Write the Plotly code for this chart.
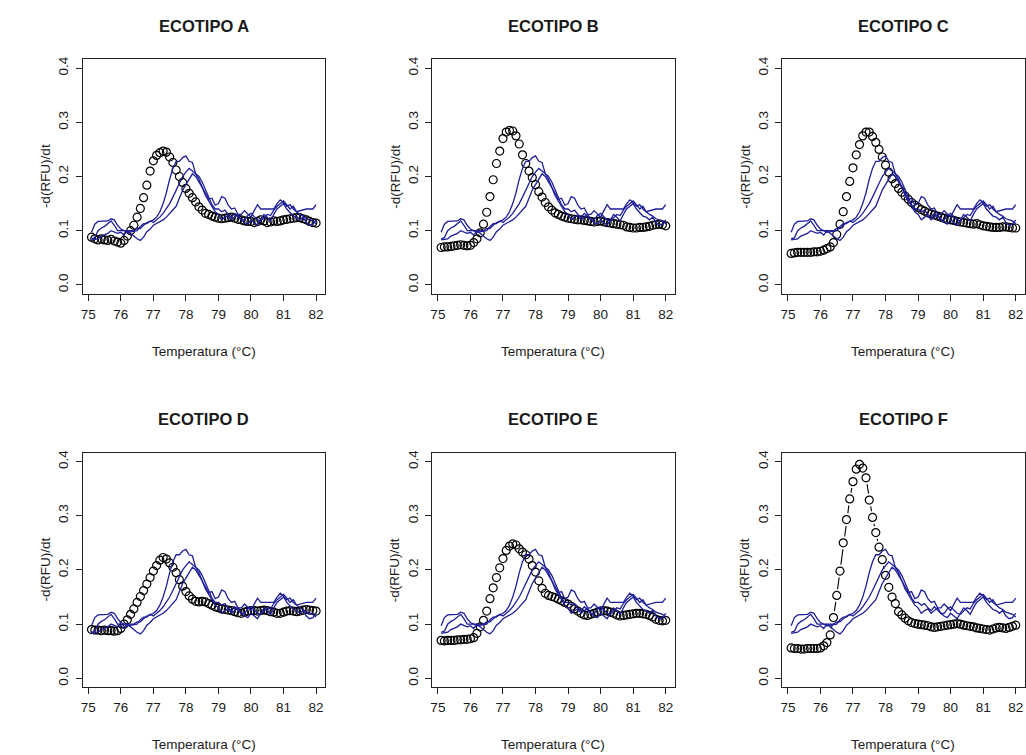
import plotly.graph_objects as go

# ---------------- data ----------------
TEMPERATURA = [75.1, 75.2, 75.3, 75.4, 75.5, 75.6, 75.7, 75.8, 75.9, 76.0,
               76.1, 76.2, 76.3, 76.4, 76.5, 76.6, 76.7, 76.8, 76.9, 77.0,
               77.1, 77.2, 77.3, 77.4, 77.5, 77.6, 77.7, 77.8, 77.9, 78.0,
               78.1, 78.2, 78.3, 78.4, 78.5, 78.6, 78.7, 78.8, 78.9, 79.0,
               79.1, 79.2, 79.3, 79.4, 79.5, 79.6, 79.7, 79.8, 79.9, 80.0,
               80.1, 80.2, 80.3, 80.4, 80.5, 80.6, 80.7, 80.8, 80.9, 81.0,
               81.1, 81.2, 81.3, 81.4, 81.5, 81.6, 81.7, 81.8, 81.9, 82.0]

# reference curves (blue), identical in every panel
REF_1 = [0.097, 0.112, 0.117, 0.117, 0.118, 0.118, 0.122, 0.120, 0.110, 0.103,
         0.100, 0.100, 0.100, 0.100, 0.104, 0.104, 0.110, 0.115, 0.117, 0.120,
         0.125, 0.135, 0.150, 0.170, 0.195, 0.215, 0.228, 0.228, 0.235, 0.238,
         0.228, 0.226, 0.205, 0.195, 0.180, 0.168, 0.158, 0.160, 0.147, 0.150,
         0.163, 0.160, 0.147, 0.140, 0.142, 0.130, 0.130, 0.137, 0.130, 0.125,
         0.137, 0.148, 0.140, 0.140, 0.140, 0.140, 0.140, 0.150, 0.157, 0.152,
         0.145, 0.148, 0.140, 0.135, 0.137, 0.138, 0.140, 0.140, 0.140, 0.148]
REF_2 = [0.085, 0.087, 0.100, 0.105, 0.108, 0.113, 0.118, 0.110, 0.100, 0.100,
         0.100, 0.097, 0.098, 0.100, 0.100, 0.108, 0.113, 0.113, 0.118, 0.115,
         0.120, 0.125, 0.132, 0.140, 0.150, 0.162, 0.175, 0.190, 0.200, 0.208,
         0.215, 0.210, 0.205, 0.200, 0.190, 0.175, 0.162, 0.148, 0.140, 0.140,
         0.135, 0.138, 0.130, 0.125, 0.132, 0.125, 0.120, 0.120, 0.128, 0.132,
         0.125, 0.120, 0.118, 0.125, 0.130, 0.128, 0.138, 0.145, 0.150, 0.155,
         0.148, 0.140, 0.145, 0.135, 0.130, 0.127, 0.122, 0.120, 0.118, 0.113]
REF_3 = [0.083, 0.084, 0.085, 0.090, 0.093, 0.095, 0.100, 0.098, 0.095, 0.097,
         0.092, 0.100, 0.095, 0.090, 0.085, 0.082, 0.088, 0.098, 0.103, 0.110,
         0.113, 0.117, 0.120, 0.125, 0.132, 0.137, 0.145, 0.160, 0.175, 0.185,
         0.195, 0.205, 0.200, 0.190, 0.180, 0.165, 0.155, 0.145, 0.135, 0.130,
         0.120, 0.125, 0.128, 0.120, 0.125, 0.130, 0.120, 0.115, 0.112, 0.120,
         0.115, 0.110, 0.120, 0.130, 0.125, 0.118, 0.130, 0.140, 0.145, 0.150,
         0.140, 0.133, 0.127, 0.125, 0.120, 0.125, 0.115, 0.110, 0.112, 0.120]

ECOTIPO_A = [0.088, 0.085, 0.083, 0.085, 0.083, 0.082, 0.084, 0.081, 0.079, 0.077,
             0.082, 0.090, 0.100, 0.110, 0.125, 0.141, 0.161, 0.184, 0.210, 0.229,
             0.239, 0.244, 0.247, 0.245, 0.236, 0.226, 0.212, 0.200, 0.189, 0.178,
             0.169, 0.161, 0.153, 0.144, 0.138, 0.132, 0.130, 0.127, 0.125, 0.123,
             0.122, 0.123, 0.124, 0.125, 0.123, 0.121, 0.120, 0.118, 0.117, 0.117,
             0.115, 0.117, 0.120, 0.118, 0.115, 0.116, 0.118, 0.117, 0.118, 0.120,
             0.121, 0.122, 0.123, 0.124, 0.124, 0.122, 0.120, 0.117, 0.115, 0.114]
ECOTIPO_B = [0.069, 0.070, 0.070, 0.071, 0.072, 0.073, 0.074, 0.073, 0.072, 0.073,
             0.078, 0.085, 0.096, 0.112, 0.134, 0.163, 0.194, 0.224, 0.247, 0.270,
             0.282, 0.285, 0.284, 0.275, 0.260, 0.240, 0.224, 0.210, 0.198, 0.185,
             0.172, 0.162, 0.152, 0.144, 0.138, 0.133, 0.130, 0.127, 0.125, 0.123,
             0.122, 0.121, 0.120, 0.120, 0.119, 0.118, 0.117, 0.116, 0.117, 0.118,
             0.116, 0.115, 0.114, 0.113, 0.112, 0.111, 0.110, 0.107, 0.106, 0.105,
             0.105, 0.106, 0.106, 0.107, 0.108, 0.110, 0.111, 0.112, 0.111, 0.109]
ECOTIPO_C = [0.058, 0.059, 0.060, 0.060, 0.060, 0.060, 0.060, 0.061, 0.061, 0.062,
             0.064, 0.067, 0.070, 0.078, 0.093, 0.112, 0.135, 0.163, 0.191, 0.216,
             0.240, 0.259, 0.275, 0.282, 0.282, 0.274, 0.263, 0.250, 0.236, 0.221,
             0.208, 0.196, 0.187, 0.178, 0.171, 0.164, 0.158, 0.152, 0.147, 0.143,
             0.139, 0.136, 0.133, 0.131, 0.129, 0.127, 0.125, 0.123, 0.121, 0.120,
             0.119, 0.117, 0.116, 0.115, 0.114, 0.113, 0.112, 0.113, 0.111, 0.109,
             0.108, 0.107, 0.106, 0.106, 0.106, 0.107, 0.107, 0.106, 0.105, 0.105]
ECOTIPO_D = [0.090, 0.089, 0.089, 0.088, 0.089, 0.088, 0.088, 0.087, 0.088, 0.092,
             0.100, 0.108, 0.118, 0.128, 0.140, 0.151, 0.162, 0.174, 0.186, 0.198,
             0.208, 0.218, 0.223, 0.220, 0.213, 0.205, 0.195, 0.182, 0.170, 0.160,
             0.152, 0.146, 0.142, 0.141, 0.142, 0.141, 0.138, 0.135, 0.132, 0.130,
             0.128, 0.127, 0.126, 0.125, 0.123, 0.121, 0.120, 0.122, 0.124, 0.125,
             0.125, 0.124, 0.125, 0.126, 0.125, 0.123, 0.122, 0.120, 0.120, 0.122,
             0.124, 0.125, 0.124, 0.123, 0.124, 0.126, 0.127, 0.126, 0.125, 0.124]
ECOTIPO_E = [0.070, 0.069, 0.070, 0.070, 0.070, 0.071, 0.071, 0.072, 0.072, 0.073,
             0.075, 0.083, 0.095, 0.107, 0.124, 0.147, 0.167, 0.186, 0.204, 0.221,
             0.236, 0.244, 0.248, 0.246, 0.239, 0.233, 0.228, 0.220, 0.208, 0.196,
             0.180, 0.166, 0.157, 0.153, 0.151, 0.149, 0.146, 0.143, 0.140, 0.137,
             0.133, 0.128, 0.124, 0.120, 0.117, 0.116, 0.118, 0.120, 0.122, 0.124,
             0.125, 0.124, 0.122, 0.120, 0.117, 0.115, 0.116, 0.117, 0.118, 0.119,
             0.120, 0.120, 0.119, 0.118, 0.116, 0.113, 0.109, 0.107, 0.106, 0.107]
ECOTIPO_F = [0.056, 0.055, 0.055, 0.054, 0.054, 0.055, 0.055, 0.055, 0.055, 0.056,
             0.060, 0.066, 0.080, 0.112, 0.153, 0.198, 0.250, 0.293, 0.331, 0.363,
             0.386, 0.395, 0.388, 0.370, 0.329, 0.297, 0.269, 0.242, 0.219, 0.190,
             0.168, 0.150, 0.138, 0.123, 0.117, 0.111, 0.106, 0.103, 0.101, 0.100,
             0.099, 0.098, 0.097, 0.095, 0.094, 0.095, 0.096, 0.097, 0.098, 0.099,
             0.100, 0.101, 0.100, 0.098, 0.097, 0.096, 0.095, 0.093, 0.092, 0.091,
             0.090, 0.089, 0.091, 0.093, 0.094, 0.093, 0.092, 0.094, 0.096, 0.098]

TITLES = ["ECOTIPO A", "ECOTIPO B", "ECOTIPO C", "ECOTIPO D", "ECOTIPO E", "ECOTIPO F"]
SAMPLES = [ECOTIPO_A, ECOTIPO_B, ECOTIPO_C, ECOTIPO_D, ECOTIPO_E, ECOTIPO_F]
REFERENCES = [REF_1, REF_2, REF_3]
CONNECTED = [False, False, False, False, False, True]
X_TICKS = [75, 76, 77, 78, 79, 80, 81, 82]
Y_TICKS = [0.0, 0.1, 0.2, 0.3, 0.4]
X_TITLE = "Temperatura (°C)"
Y_TITLE = "-d(RFU)/dt"

# ---------------- layout geometry (pixels) ----------------
W, H = 1026, 755
COL_LEFT = [80.7, 431.0, 781.7]
ROW_TOP = [56.7, 451.7]
PW, PH = 243.0, 235.0

FONT = "Arial, 'Liberation Sans', sans-serif"
TXT = "#1a1a1a"
BLUE = "#1e1e98"

fig = go.Figure()
layout = dict(
    width=W, height=H, margin=dict(l=0, r=0, t=0, b=0),
    paper_bgcolor="white", plot_bgcolor="white", showlegend=False,
    font=dict(family=FONT, color=TXT, size=13),
)
annotations = []

for i in range(6):
    r, c = divmod(i, 3)
    left = COL_LEFT[c]
    top = ROW_TOP[r]
    sfx = "" if i == 0 else str(i + 1)
    xa, ya = "x" + sfx, "y" + sfx

    xdom = [left / W, (left + PW) / W]
    ydom = [1 - (top + PH) / H, 1 - top / H]

    axis_common = dict(showgrid=False, zeroline=False, showline=True, mirror=True,
                       linecolor="#222", linewidth=1, ticks="outside", ticklen=6,
                       tickwidth=1, tickcolor="#222",
                       tickfont=dict(family=FONT, size=13.5, color=TXT))
    layout["xaxis" + sfx] = dict(axis_common, domain=xdom, anchor=ya,
                                 range=[74.824, 82.276], tickvals=X_TICKS,
                                 ticktext=[str(v) for v in X_TICKS],
                                 ticklabelstandoff=2)
    layout["yaxis" + sfx] = dict(axis_common, domain=ydom, anchor=xa,
                                 range=[-0.016, 0.416], tickvals=Y_TICKS,
                                 ticktext=["%.1f" % v for v in Y_TICKS],
                                 tickangle=-90, ticklabelstandoff=2)

    y = SAMPLES[i]
    if CONNECTED[i]:
        fig.add_trace(go.Scatter(x=TEMPERATURA, y=y, mode="lines",
                                 line=dict(color="black", width=1.1),
                                 xaxis=xa, yaxis=ya, hoverinfo="skip"))
        fig.add_trace(go.Scatter(x=TEMPERATURA, y=y, mode="markers",
                                 marker=dict(symbol="circle", size=13, color="white",
                                             line=dict(width=0)),
                                 xaxis=xa, yaxis=ya, hoverinfo="skip"))
    fig.add_trace(go.Scatter(x=TEMPERATURA, y=y, mode="markers",
                             marker=dict(symbol="circle-open", size=8, color="black",
                                         line=dict(width=1.2, color="black")),
                             xaxis=xa, yaxis=ya))
    for ref in REFERENCES:
        fig.add_trace(go.Scatter(x=TEMPERATURA, y=ref, mode="lines",
                                 line=dict(color=BLUE, width=1.3),
                                 xaxis=xa, yaxis=ya))

    cx = (left + PW / 2) / W
    # panel title
    annotations.append(dict(text="<b>%s</b>" % TITLES[i], x=cx, y=1 - (top - 33.7) / H,
                            xref="paper", yref="paper", showarrow=False,
                            xanchor="center", yanchor="middle",
                            font=dict(family=FONT, size=16.5, color=TXT)))
    # x title
    annotations.append(dict(text=X_TITLE, x=cx, y=1 - (top + PH + 58) / H,
                            xref="paper", yref="paper", showarrow=False,
                            xanchor="center", yanchor="middle",
                            font=dict(family=FONT, size=13.5, color=TXT)))
    # y title
    annotations.append(dict(text=Y_TITLE, x=(left - 37) / W, y=1 - (top + PH / 2) / H,
                            xref="paper", yref="paper", showarrow=False,
                            xanchor="center", yanchor="middle", textangle=-90,
                            font=dict(family=FONT, size=13.5, color=TXT)))

layout["annotations"] = annotations
fig.update_layout(**layout)
fig.write_html("out.html")
